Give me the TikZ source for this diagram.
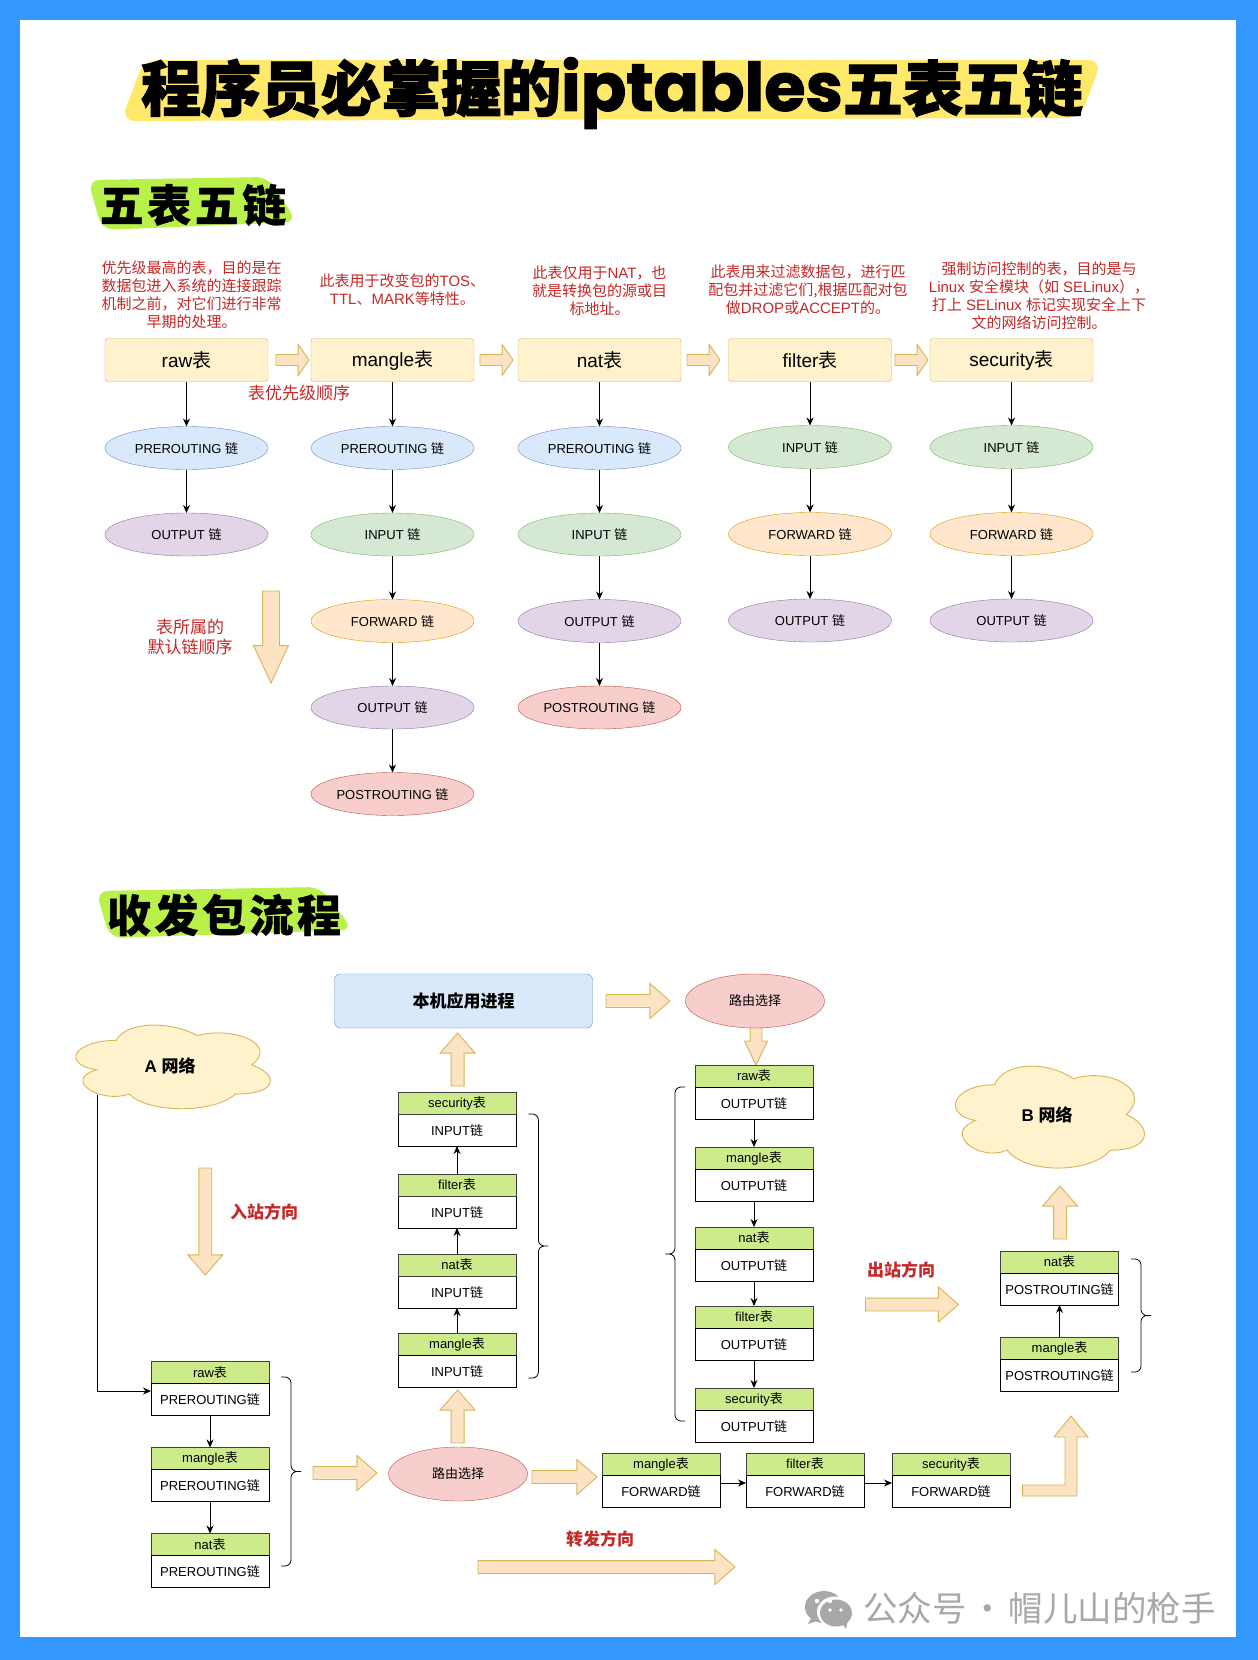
\documentclass[tikz,border=0pt]{standalone}
\usepackage{fontspec}
\usetikzlibrary{shapes.geometric, shapes.arrows, positioning, calc, arrows.meta}
\setmainfont{Liberation Sans}
\newfontfamily\cjkfont{Noto Sans CJK SC}
\newfontfamily\heavyfont[BoldFeatures={FakeBold=2}]{Noto Sans CJK SC}
\newfontfamily\spacedfont[BoldFeatures={FakeBold=0.8},LetterSpace=8]{Noto Sans CJK SC}
\newfontfamily\latinheavy[BoldFeatures={FakeBold=1.5}]{Poppins}
\newcommand{\zh}[1]{{\cjkfont #1}}
\newcommand{\biao}{\zh{表}}
\newcommand{\lian}{\zh{链}}
\definecolor{pageblue}{HTML}{3399FF}
\definecolor{notered}{HTML}{C62828}
\definecolor{markyellow}{HTML}{FFE96B}
\definecolor{markgreen}{HTML}{B9F04A}
\definecolor{stripe}{HTML}{CDEB8B}
\definecolor{blockfill}{HTML}{FBE3C4}
\definecolor{blockline}{HTML}{D6B656}
\definecolor{tablefill}{HTML}{FFF2CC}
\definecolor{marktext}{HTML}{A8A8A8}
\definecolor{bluefill}{HTML}{DAE8FC}
\definecolor{blueline}{HTML}{6C8EBF}
\definecolor{greenfill}{HTML}{D5E8D4}
\definecolor{greenline}{HTML}{82B366}
\definecolor{orangefill}{HTML}{FFE6CC}
\definecolor{orangeline}{HTML}{D79B00}
\definecolor{purplefill}{HTML}{E1D5E7}
\definecolor{purpleline}{HTML}{9673A6}
\definecolor{redfill}{HTML}{F8CECC}
\definecolor{redline}{HTML}{B85450}
\tikzstyle{tablebox} = [rectangle, rounded corners=3pt, minimum width=163pt, minimum height=43pt, text centered, fill=tablefill, draw=blockline, font=\fontsize{19}{22}\selectfont, outer sep=0pt]
\tikzstyle{chainnode} = [ellipse, minimum width=163pt, minimum height=43pt, inner sep=0pt, outer sep=0pt, font=\fontsize{13}{15}\selectfont]
\tikzstyle{prechain} = [chainnode, fill=bluefill, draw=blueline]
\tikzstyle{inpchain} = [chainnode, fill=greenfill, draw=greenline]
\tikzstyle{fwdchain} = [chainnode, fill=orangefill, draw=orangeline]
\tikzstyle{outchain} = [chainnode, fill=purplefill, draw=purpleline]
\tikzstyle{postchain} = [chainnode, fill=redfill, draw=redline]
\tikzstyle{note} = [align=center, text=notered, font=\fontsize{15}{18}\selectfont, inner sep=0pt]
\tikzstyle{dirlabel} = [text=notered, font=\fontsize{17}{20}\selectfont\bfseries, inner sep=0pt]
\tikzstyle{head} = [rectangle, anchor=north, minimum width=118pt, minimum height=22pt, inner sep=0pt, outer sep=0pt, fill=stripe, draw=black!75, font=\fontsize{13}{15}\selectfont]
\tikzstyle{body} = [rectangle, minimum width=118pt, minimum height=32pt, inner sep=0pt, outer sep=0pt, fill=white, draw=black, font=\fontsize{13}{15}\selectfont]
\tikzstyle{route} = [ellipse, minimum width=139pt, minimum height=54pt, inner sep=0pt, fill=redfill, draw=redline, font=\fontsize{13}{15}\selectfont]
\tikzstyle{arrow} = [line width=0.9pt,-{Stealth[length=8pt,width=7pt]}]
\tikzstyle{blockarrow} = [single arrow, anchor=tail, inner sep=6pt, outer sep=0pt, fill=blockfill, draw=blockline, line width=0.9pt, single arrow head extend=11pt, single arrow tip angle=82]
\tikzstyle{tinyarrow} = [blockarrow, minimum height=33pt, inner sep=5pt, single arrow head extend=10pt, single arrow tip angle=110]
\tikzset{bracket/.style={line width=0.8pt, rounded corners=6pt, to path={(\tikztostart) -- ++(#1,0) -- ($(\tikztostart)!.5!(\tikztotarget)+(#1,0)$) -- ++(#1,0) ($(\tikztostart)!.5!(\tikztotarget)+(2*#1,0)$) -- ++(-#1,0) -- ($(\tikztotarget)+(#1,0)$) -- (\tikztotarget)}}}
\tikzset{netcloud/.pic={\draw[fill=tablefill, draw=blockline, line width=0.9pt] (.25,.25) .. controls (.05,.25) and (0,.5) .. (.16,.55) .. controls (0,.66) and (.18,.9) .. (.31,.8) .. controls (.4,1) and (.7,1) .. (.8,.8) .. controls (1,.8) and (1,.6) .. (.875,.5) .. controls (1,.3) and (.8,.1) .. (.625,.2) .. controls (.5,.05) and (.3,.05) .. (.25,.25) -- cycle;}}
\begin{document}
\begin{tikzpicture}[x=1pt, y=-1pt]
% page
\fill [pageblue] (0,0) rectangle (1258,1660);
\fill [white] (20,20) rectangle (1236,1637);
% titles
\fill [markyellow, rounded corners=14pt] (144,60) -- (1102,60) -- (1080,118) -- (121,121) -- cycle;
\node (title) at (612,93) {\bfseries\fontsize{60}{66}\selectfont\heavyfont 程序员必掌握的{\latinheavy\fontsize{67}{66}\selectfont iptables}五表五链};
\fill [markgreen, rounded corners=12pt] (88,180) -- (268,177) -- (297,222) -- (102,230) -- cycle;
\node (subone) at (193,205) {\bfseries\fontsize{44}{46}\selectfont\spacedfont 五表五链};
\fill [markgreen, rounded corners=12pt] (96,891) -- (320,887) -- (353,930) -- (110,938) -- cycle;
\node (subtwo) at (224,915) {\bfseries\fontsize{44}{46}\selectfont\spacedfont 收发包流程};
% tables
\node (rawt) [tablebox] at (186.5,360) {raw\biao};
\node (manglet) [tablebox, right=43pt of rawt] {mangle\biao};
\node (natt) [tablebox, right=44pt of manglet] {nat\biao};
\node (filtert) [tablebox, right=47.5pt of natt] {filter\biao};
\node (securityt) [tablebox, right=38.5pt of filtert] {security\biao};
\node (noteraw) [note] at (191.7,295) {\zh{优先级最高的表，目的是在}\\\zh{数据包进入系统的连接跟踪}\\\zh{机制之前，对它们进行非常}\\\zh{早期的处理。}};
\node (notemangle) [note] at (402.4,289.6) {\zh{此表用于改变包的}TOS\zh{、}\\TTL\zh{、}MARK\zh{等特性。}};
\node (notenat) [note, above=23pt of natt] {\zh{此表仅用于}NAT\zh{，也}\\\zh{就是转换包的源或目}\\\zh{标地址。}};
\node (notefilter) [note] at (808,290) {\zh{此表用来过滤数据包，进行匹}\\\zh{配包并过滤它们,根据匹配对包}\\\zh{做}DROP\zh{或}ACCEPT\zh{的。}};
\node (notesecurity) at (1039,295.5) [note] {\zh{强制访问控制的表，目的是与}\\Linux \zh{安全模块（如} SELinux\zh{），}\\\zh{打上} SELinux \zh{标记实现安全上下}\\\zh{文的网络访问控制。}};
\node (orderlabel) [note, font=\fontsize{17}{18}\selectfont] at (299,393) {\zh{表优先级顺序}};
\node (arrowa) [tinyarrow] at (276,360) {};
\node (arrowb) [tinyarrow] at (480,360) {};
\node (arrowc) [tinyarrow] at (687,360) {};
\node (arrowd) [tinyarrow] at (895,360) {};
% chains
\node (rawpre) [prechain, below=45pt of rawt] {PREROUTING \lian};
\node (rawout) [outchain, below=43.5pt of rawpre] {OUTPUT \lian};
\node (manglepre) [prechain, below=45pt of manglet] {PREROUTING \lian};
\node (mangleinp) [inpchain, below=43.5pt of manglepre] {INPUT \lian};
\node (manglefwd) [fwdchain, below=43.5pt of mangleinp] {FORWARD \lian};
\node (mangleout) [outchain, below=43.5pt of manglefwd] {OUTPUT \lian};
\node (manglepost) [postchain, below=43.5pt of mangleout] {POSTROUTING \lian};
\node (natpre) [prechain, below=45pt of natt] {PREROUTING \lian};
\node (natinp) [inpchain, below=43.5pt of natpre] {INPUT \lian};
\node (natout) [outchain, below=43.5pt of natinp] {OUTPUT \lian};
\node (natpost) [postchain, below=43.5pt of natout] {POSTROUTING \lian};
\node (filterinp) [inpchain, below=44pt of filtert] {INPUT \lian};
\node (filterfwd) [fwdchain, below=44pt of filterinp] {FORWARD \lian};
\node (filterout) [outchain, below=43.5pt of filterfwd] {OUTPUT \lian};
\node (securityinp) [inpchain, below=44pt of securityt] {INPUT \lian};
\node (securityfwd) [fwdchain, below=44pt of securityinp] {FORWARD \lian};
\node (securityout) [outchain, below=43.5pt of securityfwd] {OUTPUT \lian};
\draw [arrow] (rawt) -- (rawpre);
\draw [arrow] (rawpre) -- (rawout);
\draw [arrow] (manglet) -- (manglepre);
\draw [arrow] (manglepre) -- (mangleinp);
\draw [arrow] (mangleinp) -- (manglefwd);
\draw [arrow] (manglefwd) -- (mangleout);
\draw [arrow] (mangleout) -- (manglepost);
\draw [arrow] (natt) -- (natpre);
\draw [arrow] (natpre) -- (natinp);
\draw [arrow] (natinp) -- (natout);
\draw [arrow] (natout) -- (natpost);
\draw [arrow] (filtert) -- (filterinp);
\draw [arrow] (filterinp) -- (filterfwd);
\draw [arrow] (filterfwd) -- (filterout);
\draw [arrow] (securityt) -- (securityinp);
\draw [arrow] (securityinp) -- (securityfwd);
\draw [arrow] (securityfwd) -- (securityout);
\node (orderarrow) [blockarrow, minimum height=92pt, inner sep=8pt, single arrow head extend=9pt, single arrow tip angle=50, shape border rotate=270] at (271,591) {};
\node (orderchain) [note, font=\fontsize{17}{20}\selectfont] at (190,637) {\zh{表所属的}\\\zh{默认链顺序}};
% A network
\pic [xscale=217, yscale=97.6] at (61.8,1016) {netcloud};
\node (neta) at (170,1066) {\bfseries\fontsize{17}{20}\selectfont A \zh{网络}};
\coordinate (netafoot) at (97.5,1095);
\coordinate (prearrive) at (151,1391);
\node (inarrow) [blockarrow, minimum height=107pt, shape border rotate=270] at (205.3,1168) {};
\node (inlabel) [dirlabel] at (264,1212) {\zh{入站方向}};
% prerouting stack
\node (prerawh) [head] at (210,1361.5) {raw\biao};
\node (prerawb) [body, below=0pt of prerawh] {PREROUTING\lian};
\node (premangleh) [head, below=32pt of prerawb] {mangle\biao};
\node (premangleb) [body, below=0pt of premangleh] {PREROUTING\lian};
\node (prenath) [head, below=32pt of premangleb] {nat\biao};
\node (prenatb) [body, below=0pt of prenath] {PREROUTING\lian};
\draw [arrow] (netafoot) |- (prearrive);
\draw [arrow] (prerawb) -- (premangleh);
\draw [arrow] (premangleb) -- (prenath);
\coordinate (prebracetop) at (281,1377);
\coordinate (prebracebot) at (281,1566);
\draw [bracket=10] (prebracetop) to (prebracebot);
\node (prearrow) [blockarrow, minimum height=64pt] at (313,1473) {};
% route in
\node (routein) [route] at (458,1474) {\zh{路由选择}};
\node (routearrow) [blockarrow, minimum height=65pt] at (532,1477) {};
\node (uparrowa) [blockarrow, minimum height=53pt, shape border rotate=90] at (457.6,1443) {};
% input stack
\node (inmangleh) [head] at (457,1333) {mangle\biao};
\node (inmangleb) [body, below=0pt of inmangleh] {INPUT\lian};
\node (innatb) [body, above=25pt of inmangleh] {INPUT\lian};
\node (innath) [head, above=0pt of innatb] {nat\biao};
\node (infilterb) [body, above=26pt of innath] {INPUT\lian};
\node (infilterh) [head, above=0pt of infilterb] {filter\biao};
\node (insecurityb) [body, above=28pt of infilterh] {INPUT\lian};
\node (insecurityh) [head, above=0pt of insecurityb] {security\biao};
\draw [arrow] (inmangleh) -- (innatb);
\draw [arrow] (innath) -- (infilterb);
\draw [arrow] (infilterh) -- (insecurityb);
\coordinate (inbracetop) at (528.4,1114);
\coordinate (inbracebot) at (528.4,1378);
\draw [bracket=10] (inbracetop) to (inbracebot);
\node (uparrowb) [blockarrow, minimum height=53pt, shape border rotate=90] at (457.6,1086) {};
% local process
\node (local) [rectangle, rounded corners=6pt, minimum width=258pt, minimum height=54pt, fill=bluefill, draw=blueline, font=\fontsize{17}{20}\selectfont\bfseries] at (463.5,1001) {\zh{本机应用进程}};
\node (localarrow) [blockarrow, minimum height=64pt] at (606,1001) {};
\node (routeout) [route] at (755,1001) {\zh{路由选择}};
\node (routedown) [blockarrow, minimum height=37pt, inner sep=5.5pt, single arrow head extend=5.5pt, single arrow tip angle=51, shape border rotate=270] at (756,1028) {};
% output stack
\node (outrawh) [head] at (754,1065) {raw\biao};
\node (outrawb) [body, below=0pt of outrawh] {OUTPUT\lian};
\node (outmangleh) [head, below=28pt of outrawb] {mangle\biao};
\node (outmangleb) [body, below=0pt of outmangleh] {OUTPUT\lian};
\node (outnath) [head, below=26pt of outmangleb] {nat\biao};
\node (outnatb) [body, below=0pt of outnath] {OUTPUT\lian};
\node (outfilterh) [head, below=25pt of outnatb] {filter\biao};
\node (outfilterb) [body, below=0pt of outfilterh] {OUTPUT\lian};
\node (outsecurityh) [head, below=28pt of outfilterb] {security\biao};
\node (outsecurityb) [body, below=0pt of outsecurityh] {OUTPUT\lian};
\draw [arrow] (outrawb) -- (outmangleh);
\draw [arrow] (outmangleb) -- (outnath);
\draw [arrow] (outnatb) -- (outfilterh);
\draw [arrow] (outfilterb) -- (outsecurityh);
\coordinate (outbracetop) at (685,1087);
\coordinate (outbracebot) at (685,1421);
\draw [bracket=-10] (outbracetop) to (outbracebot);
\node (outlabel) [dirlabel] at (901,1270) {\zh{出站方向}};
\node (outarrow) [blockarrow, minimum height=93pt] at (865.5,1304.5) {};
% B network
\pic [xscale=211, yscale=119] at (941.7,1055) {netcloud};
\node (netb) at (1047,1115) {\bfseries\fontsize{17}{20}\selectfont B \zh{网络}};
\node (uparrowc) [blockarrow, minimum height=53pt, shape border rotate=90] at (1060,1239) {};
\node (postnath) [head] at (1059.5,1251) {nat\biao};
\node (postnatb) [body, below=0pt of postnath] {POSTROUTING\lian};
\node (postmangleh) [head, below=32pt of postnatb] {mangle\biao};
\node (postmangleb) [body, below=0pt of postmangleh] {POSTROUTING\lian};
\draw [arrow] (postmangleh) -- (postnatb);
\coordinate (postbracetop) at (1131,1259);
\coordinate (postbracebot) at (1131,1372);
\draw [bracket=10] (postbracetop) to (postbracebot);
% forward row
\node (fwdmangleh) [head] at (661,1453) {mangle\biao};
\node (fwdmangleb) [body, below=0pt of fwdmangleh] {FORWARD\lian};
\node (fwdfilterh) [head, right=26pt of fwdmangleh] {filter\biao};
\node (fwdfilterb) [body, below=0pt of fwdfilterh] {FORWARD\lian};
\node (fwdsecurityh) [head, right=28pt of fwdfilterh] {security\biao};
\node (fwdsecurityb) [body, below=0pt of fwdsecurityh] {FORWARD\lian};
\draw [arrow] ([yshift=8pt]fwdmangleb.east) -- ([yshift=8pt]fwdfilterb.west);
\draw [arrow] ([yshift=8pt]fwdfilterb.east) -- ([yshift=8pt]fwdsecurityb.west);
\draw [fill=blockfill, draw=blockline, line width=0.9pt] (1022.6,1485) -- (1065,1485) -- (1065,1437) -- (1054,1437) -- (1071,1416) -- (1088,1437) -- (1077,1437) -- (1077,1496) -- (1022.6,1496) -- cycle;
\node (fwdlabel) [dirlabel] at (600,1539) {\zh{转发方向}};
\node (fwdarrow) [blockarrow, minimum height=257pt] at (478,1567) {};
% watermark
\fill [marktext] (824,1607) ellipse (19pt and 16pt);
\fill [marktext] (808,1624) -- (813,1615) -- (820,1620) -- cycle;
\fill [white] (835,1612) ellipse (18pt and 15.5pt);
\fill [marktext] (836,1613) ellipse (16pt and 13.5pt);
\fill [marktext] (846,1629) -- (841,1622) -- (848,1620) -- cycle;
\fill [white] (817,1601) circle (2.2pt) (830,1601) circle (2.2pt) (830,1610) circle (1.8pt) (841,1610) circle (1.8pt);
\node (mark) [text=marktext, inner sep=0pt, font=\fontsize{34.5}{38}\selectfont] at (1039.5,1608) {\zh{公众号\hspace{4pt}·\hspace{4pt}帽儿山的枪手}};
\end{tikzpicture}
\end{document}
